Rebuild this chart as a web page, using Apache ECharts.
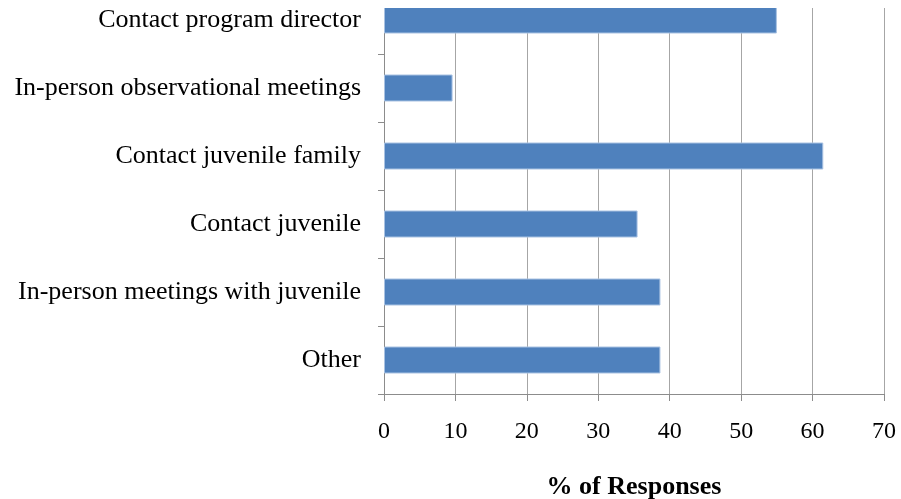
<!DOCTYPE html>
<html>
<head>
<meta charset="utf-8">
<script src="https://cdn.jsdelivr.net/npm/echarts@6/dist/echarts.min.js"></script>
<style>
  html, body { margin: 0; padding: 0; background: #fff; overflow: hidden; }
  /* the original picture is cropped at the top, so the chart starts above the page */
  #chart { width: 901px; height: 513px; margin-top: -14px; }
</style>
</head>
<body>
<div id="chart"></div>
<script>
// categories listed bottom to top (category axis starts at the bottom)
const categories = [
  'Other',
  'In-person meetings with juvenile',
  'Contact juvenile',
  'Contact juvenile family',
  'In-person observational meetings',
  'Contact program director'
];
const responses = [38.7, 38.7, 35.5, 61.5, 9.6, 55.0];
const xTicks = [0, 10, 20, 30, 40, 50, 60, 70];

const chart = echarts.init(document.getElementById('chart'));
const serif = '"Liberation Serif", "DejaVu Serif", serif';

const option = {
  animation: false,
  grid: {
    left: 384,
    right: 17,
    top: 0,
    bottom: 105,
    containLabel: false,
    outerBoundsMode: 'none'
  },
  xAxis: {
    type: 'value',
    min: xTicks[0],
    max: xTicks[xTicks.length - 1],
    interval: 10,
    name: '% of Responses',
    nameLocation: 'middle',
    nameGap: 80,
    nameTextStyle: {
      fontFamily: serif,
      fontSize: 26,
      fontWeight: 'bold',
      color: '#000'
    },
    axisLine: { show: true, lineStyle: { color: '#8c8c8c', width: 1 } },
    axisTick: { show: true, length: 7, lineStyle: { color: '#8c8c8c' } },
    axisLabel: {
      margin: 26,
      fontFamily: serif,
      fontSize: 24,
      color: '#000'
    },
    splitLine: { show: true, lineStyle: { color: '#a6a6a6', width: 1 } }
  },
  yAxis: {
    type: 'category',
    data: categories,
    axisLine: { show: true, lineStyle: { color: '#8c8c8c', width: 1 } },
    axisTick: { show: true, length: 6, lineStyle: { color: '#8c8c8c' } },
    axisLabel: {
      margin: 23,
      fontFamily: serif,
      fontSize: 26,
      color: '#000'
    }
  },
  series: [
    {
      name: '% of Responses',
      type: 'bar',
      data: responses,
      barWidth: 27,
      itemStyle: {
        color: '#4f81bd',
        borderColor: '#a9c2e2',
        borderWidth: 1
      }
    }
  ],
  graphic: [
    {
      // blank strip at the very top of the original
      type: 'rect',
      left: 0,
      top: 0,
      shape: { width: 901, height: 22 },
      style: { fill: '#fff' },
      z: 100
    }
  ]
};

chart.setOption(option);
</script>
</body>
</html>
